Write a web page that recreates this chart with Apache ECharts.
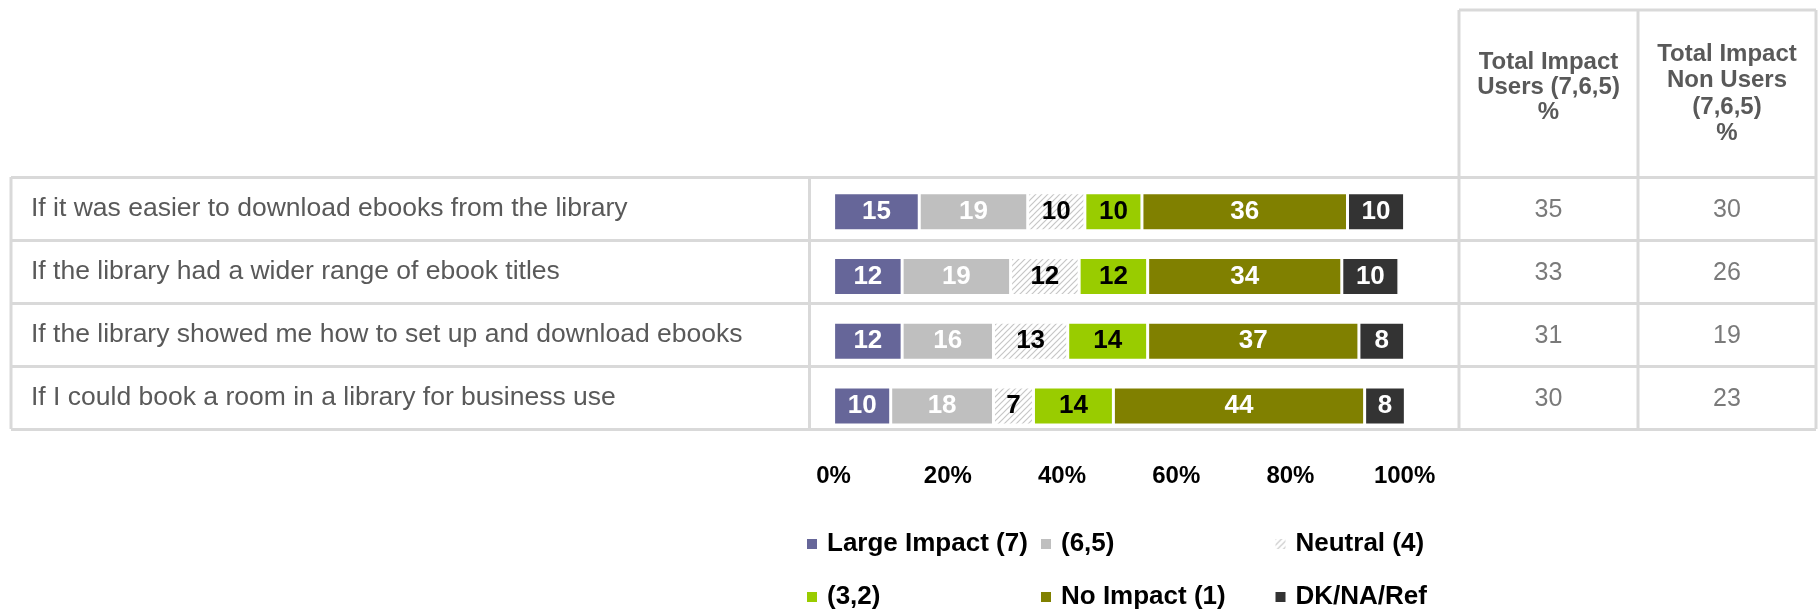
<!DOCTYPE html>
<html>
<head>
<meta charset="utf-8">
<title>Impact on library ebook use</title>
<script src="https://cdn.jsdelivr.net/npm/echarts@6/dist/echarts.min.js"></script>
<style>
  html, body { margin: 0; padding: 0; background: #ffffff; }
  #chart { width: 1818px; height: 610px; }
</style>
</head>
<body>
<div id="chart"></div>
<script>
// Statements shown in the table rows
const categories = [
  'If it was easier to download ebooks from the library',
  'If the library had a wider range of ebook titles',
  'If the library showed me how to set up and download ebooks',
  'If I could book a room in a library for business use'
];

// Stacked bar segments (%), one array per response group
const largeImpact = [15, 12, 12, 10];
const impact65    = [19, 19, 16, 18];
const neutral     = [10, 12, 13, 7];
const impact32    = [10, 12, 14, 14];
const noImpact    = [36, 34, 37, 44];
const dkNaRef     = [10, 10, 8, 8];

// Summary columns (%)
const usersTotal    = [35, 33, 31, 30];
const nonUsersTotal = [30, 26, 19, 23];

const seriesNames = ['Large Impact (7)', '(6,5)', 'Neutral (4)', '(3,2)', 'No Impact (1)', 'DK/NA/Ref'];
const usersHeader    = 'Total Impact\nUsers (7,6,5)\n%';
const nonUsersHeader = 'Total Impact\nNon Users\n(7,6,5)\n%';
const axisTicks = [0, 20, 40, 60, 80, 100];

const FONT = '"Liberation Sans", Arial, Helvetica, sans-serif';
const GRID_LINE = '#d9d9d9';

// Diagonal hatch tile used for the neutral segment
function hatchTile() {
  const s = 6;
  const c = document.createElement('canvas');
  c.width = s; c.height = s;
  const g = c.getContext('2d');
  g.fillStyle = '#ffffff';
  g.fillRect(0, 0, s, s);
  g.strokeStyle = '#c6c6c6';
  g.lineWidth = 1.2;
  g.beginPath();
  g.moveTo(0, s); g.lineTo(s, 0);
  g.moveTo(-s / 2, s / 2); g.lineTo(s / 2, -s / 2);
  g.moveTo(s / 2, s * 1.5); g.lineTo(s * 1.5, s / 2);
  g.stroke();
  return c;
}

const hatch = { image: hatchTile(), repeat: 'repeat' };
const segData   = [largeImpact, impact65, neutral, impact32, noImpact, dkNaRef];
const segColors = ['#666699', '#bfbfbf', hatch, '#99cc00', '#808000', '#333333'];
const segLabel  = ['#ffffff', '#ffffff', '#000000', '#000000', '#ffffff', '#ffffff'];

const chart = echarts.init(document.getElementById('chart'), null, { renderer: 'canvas' });

const barSeries = segData.map((arr, i) => ({
  name: seriesNames[i],
  type: 'bar',
  stack: 'total',
  xAxisIndex: 0,
  yAxisIndex: 0,
  barWidth: 38,
  data: arr,
  itemStyle: { color: segColors[i], borderColor: '#ffffff', borderWidth: 1.5 },
  label: {
    show: true,
    position: 'inside',
    color: segLabel[i],
    fontFamily: FONT,
    fontWeight: 'bold',
    fontSize: 26
  },
  z: 3
}));

function valueCells(values, xi, yi) {
  return {
    type: 'scatter',
    xAxisIndex: xi,
    yAxisIndex: yi,
    symbolSize: 1,
    itemStyle: { color: 'rgba(0,0,0,0)' },
    data: values.map((v, i) => [0, i, v]),
    label: {
      show: true,
      position: 'inside',
      offset: [0, 2],
      formatter: p => String(p.value[2]),
      color: '#595959',
      fontFamily: FONT,
      fontSize: 25
    },
    silent: true
  };
}

function legendColumn(names, left) {
  return {
    orient: 'vertical',
    left: left,
    top: 531,
    padding: 0,
    itemGap: 27,
    itemWidth: 10,
    itemHeight: 10,
    icon: 'rect',
    data: names,
    selectedMode: false,
    itemStyle: { borderWidth: 0 },
    textStyle: {
      fontFamily: FONT,
      fontWeight: 'bold',
      fontSize: 26,
      lineHeight: 26,
      color: '#000000',
      padding: [0, 0, 0, 5]
    }
  };
}

const frame = (x1, y1, x2, y2) => ({
  type: 'line',
  shape: { x1, y1, x2, y2 },
  style: { stroke: GRID_LINE, lineWidth: 3 },
  z: 1
});

const option = {
  backgroundColor: '#ffffff',
  animation: false,
  grid: [
    { left: 833.6, top: 179.3, width: 571, height: 259.2 },   // bars
    { left: 11, top: 177, width: 1805, height: 252 },          // table rows
    { left: 1459, top: 177, width: 179, height: 252 },        // users column
    { left: 1638, top: 177, width: 178, height: 252 }         // non-users column
  ],
  xAxis: [
    {
      gridIndex: 0, type: 'value', min: axisTicks[0], max: axisTicks[axisTicks.length - 1],
      interval: axisTicks[1] - axisTicks[0],
      axisLine: { show: false }, axisTick: { show: false }, splitLine: { show: false },
      axisLabel: {
        formatter: '{value}%', margin: 26,
        fontFamily: FONT, fontWeight: 'bold', fontSize: 24, color: '#000000'
      }
    },
    { gridIndex: 1, type: 'value', show: false, min: 0, max: 1 },
    {
      gridIndex: 2, type: 'category', position: 'top', data: [usersHeader],
      axisLine: { show: false }, axisTick: { show: false }, splitLine: { show: false },
      axisLabel: {
        margin: 52, lineHeight: 25, fontFamily: FONT, fontWeight: 'bold', fontSize: 24, color: '#595959'
      }
    },
    {
      gridIndex: 3, type: 'category', position: 'top', data: [nonUsersHeader],
      axisLine: { show: false }, axisTick: { show: false }, splitLine: { show: false },
      axisLabel: {
        margin: 30, lineHeight: 26.5, fontFamily: FONT, fontWeight: 'bold', fontSize: 24, color: '#595959'
      }
    }
  ],
  yAxis: [
    {
      gridIndex: 0, type: 'category', inverse: true, data: categories,
      axisLine: { show: false }, axisTick: { show: false }, axisLabel: { show: false }, splitLine: { show: false }
    },
    {
      gridIndex: 1, type: 'category', inverse: true, data: categories,
      axisLine: { show: false }, axisTick: { show: false },
      splitLine: { show: true, lineStyle: { color: GRID_LINE, width: 3 } },
      axisLabel: {
        align: 'left', margin: -20, padding: [4, 0, 0, 0],
        fontFamily: FONT, fontSize: 26.5, color: '#595959'
      }
    },
    { gridIndex: 2, type: 'category', inverse: true, data: categories, show: false },
    { gridIndex: 3, type: 'category', inverse: true, data: categories, show: false }
  ],
  legend: [
    legendColumn([seriesNames[0], seriesNames[3]], 807),
    legendColumn([seriesNames[1], seriesNames[4]], 1041),
    legendColumn([seriesNames[2], seriesNames[5]], 1275.5)
  ],
  graphic: [
    frame(11, 177, 11, 429),
    frame(809.5, 177, 809.5, 429),
    frame(1459, 10, 1459, 429),
    frame(1638, 10, 1638, 429),
    frame(1816, 10, 1816, 429),
    frame(1459, 10, 1816, 10)
  ],
  series: [
    ...barSeries,
    valueCells(usersTotal, 2, 2),
    valueCells(nonUsersTotal, 3, 3)
  ]
};

chart.setOption(option);
</script>
</body>
</html>
